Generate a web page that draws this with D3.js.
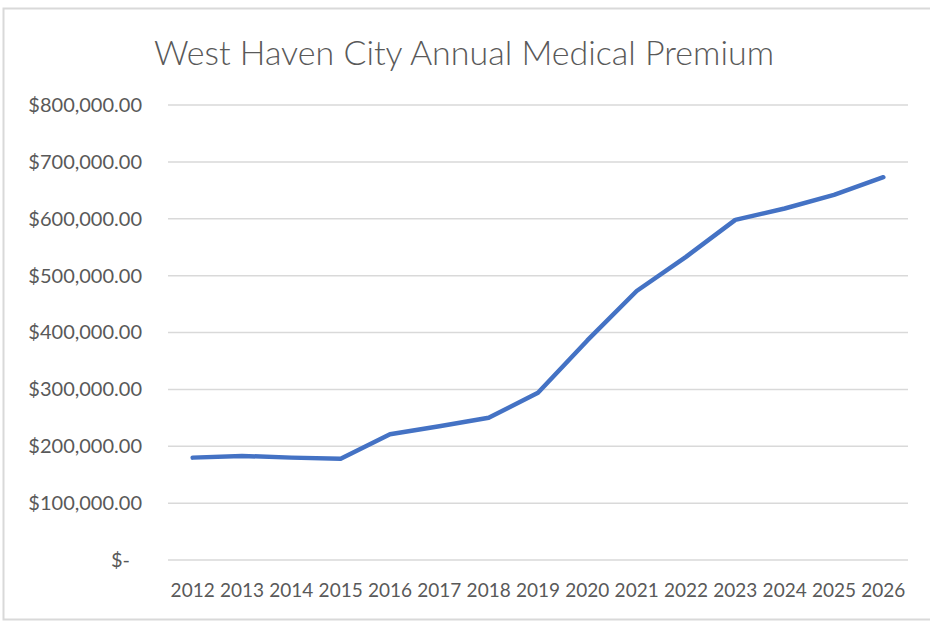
<!DOCTYPE html>
<html>
<head>
<meta charset="utf-8">
<script src="https://cdn.jsdelivr.net/npm/d3@7"></script>
<style>
  body { margin: 0; background: #fff; }
  svg { display: block; font-family: Lato, "Open Sans", sans-serif; }
</style>
</head>
<body>
<svg id="chart" width="930" height="622"></svg>
<script>
// dades llegides del gràfic
const years = ["2012","2013","2014","2015","2016","2017","2018","2019","2020","2021","2022","2023","2024","2025","2026"];
const premiums = [180000, 183000, 180000, 178000, 221000, 235000, 250000, 294000, 386000, 473000, 533000, 598000, 618000, 642000, 673000];
const yTicks = [0, 100000, 200000, 300000, 400000, 500000, 600000, 700000, 800000];
const title = "West Haven City Annual Medical Premium";

const data = years.map((y, i) => ({ year: y, value: premiums[i] }));

const svg = d3.select("#chart");
const margin = { top: 105, right: 22, bottom: 62, left: 168 };
const width = +svg.attr("width") - margin.left - margin.right;
const height = +svg.attr("height") - margin.top - margin.bottom;

// marc
svg.append("rect")
  .attr("x", 3.5).attr("y", 8.5)
  .attr("width", 940).attr("height", 611)
  .attr("fill", "none")
  .attr("stroke", "#d9d9d9")
  .attr("stroke-width", 2);

svg.append("text")
  .attr("x", 464).attr("y", 65)
  .attr("text-anchor", "middle")
  .style("font-size", "34px")
  .style("font-weight", 300)
  .style("fill", "#595959")
  .text(title);

const g = svg.append("g").attr("transform", `translate(${margin.left},${margin.top})`);

const x = d3.scaleBand().domain(years).range([0, width]);
const y = d3.scaleLinear().domain([0, 800000]).range([height, 0]);

// línies de graella
g.append("g")
  .selectAll("line")
  .data(yTicks)
  .enter().append("line")
  .attr("x1", 0).attr("x2", width)
  .attr("y1", d => y(d)).attr("y2", d => y(d))
  .attr("stroke", "#d9d9d9")
  .attr("stroke-width", 1.5);

const fmt = d3.format(",.2f");
const yAxis = g.append("g")
  .call(d3.axisLeft(y).tickValues(yTicks).tickSize(0).tickPadding(26)
    .tickFormat(d => d === 0 ? "$-" : "$" + fmt(d)));
yAxis.select(".domain").remove();
yAxis.selectAll("text")
  .attr("dx", d => d === 0 ? -12 : 0)
  .style("fill", "#595959")
  .style("font-size", "20px")
  .style("font-family", "Lato, sans-serif");

const xAxis = g.append("g")
  .attr("transform", `translate(0,${height})`)
  .call(d3.axisBottom(x).tickSize(0).tickPadding(24));
xAxis.select(".domain").remove();
xAxis.selectAll("text")
  .style("fill", "#595959")
  .style("font-size", "19px")
  .style("font-family", "Lato, sans-serif");

const line = d3.line()
  .x(d => x(d.year) + x.bandwidth() / 2)
  .y(d => y(d.value));

g.append("path")
  .datum(data)
  .attr("fill", "none")
  .attr("stroke", "#4472c4")
  .attr("stroke-width", 4.5)
  .attr("stroke-linejoin", "round")
  .attr("stroke-linecap", "round")
  .attr("d", line);
</script>
</body>
</html>
